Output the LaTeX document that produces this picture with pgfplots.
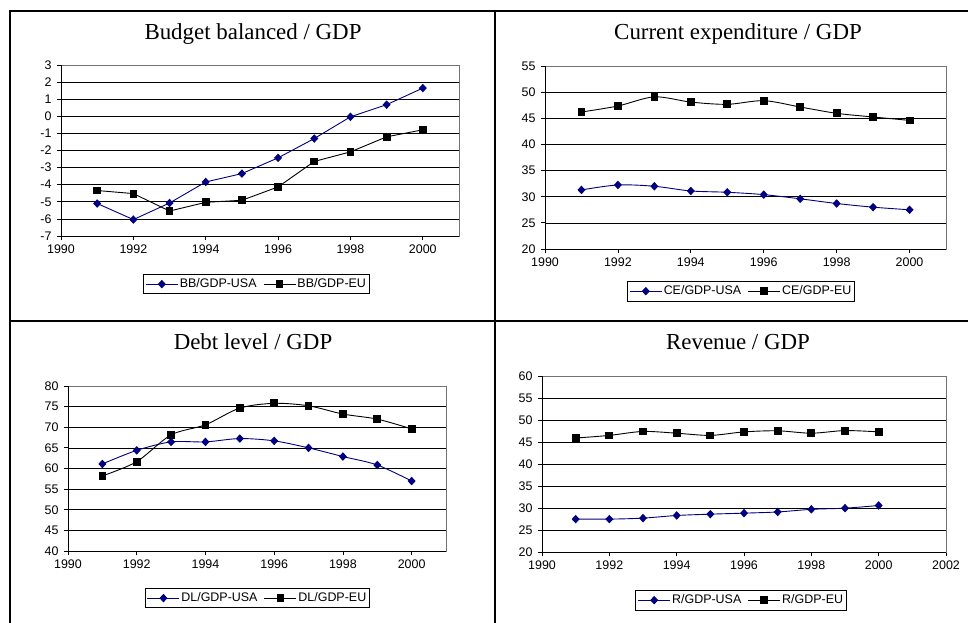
\documentclass[border=0pt]{standalone}
\usepackage{fontspec}
\setmainfont{Liberation Sans}
\newfontfamily\serif{Liberation Serif}
\usepackage{pgfplots}
\pgfplotsset{compat=1.18}
\definecolor{usa}{RGB}{0,0,128}
\pgfplotsset{
  panel/.style={
    scale only axis,
    /pgf/number format/assume math mode=true,
    xticklabel style={/pgf/number format/1000 sep={}},
    ymajorgrids,
    major grid style={black, line width=0.7bp},
    axis line style={black!55, line width=0.8bp},
    tick pos=left, tick align=outside,
    major tick length=4bp,
    tick style={black, line width=0.8bp},
    xtick distance=2,
    xmin=1990,
    ticklabel style={font=\fontsize{12.5}{14}\selectfont},
    yticklabel style={xshift=-2bp},
    xticklabel style={yshift=-1bp},
    legend columns=2,
    legend style={draw=black, line width=0.8bp, font=\fontsize{12.5}{14}\selectfont,
      anchor=north, inner xsep=2bp, inner ysep=3bp,
      /tikz/every even column/.append style={column sep=5bp},
      nodes={inner sep=1.5bp}},
    legend image code/.code={\draw[mark repeat=2,mark phase=2] plot coordinates {(0bp,0bp)(16bp,0bp)(32bp,0bp)};},
  },
  us/.style={color=usa, line width=0.9bp, mark=diamond*, mark size=3.6bp, mark options={xscale=1.25, solid}},
  eu/.style={color=black, line width=0.9bp, mark=square*, mark size=3.4bp, mark options={solid}},
}
\begin{document}
\begin{tikzpicture}
\useasboundingbox (0,0) rectangle (968bp,-623bp);
\draw[line width=2bp] (10bp,-623bp) -- (10bp,-11bp) -- (968bp,-11bp);
\draw[line width=2bp] (10bp,-321bp) -- (968bp,-321bp);
\draw[line width=2bp] (495bp,-11bp) -- (495bp,-623bp);

\node[anchor=base] at (253bp,-39bp) {\serif\fontsize{23}{28}\selectfont Budget balanced / GDP};
\node[anchor=base] at (738bp,-39bp) {\serif\fontsize{23}{28}\selectfont Current expenditure / GDP};
\node[anchor=base] at (253bp,-349bp) {\serif\fontsize{23}{28}\selectfont Debt level / GDP};
\node[anchor=base] at (738bp,-349bp) {\serif\fontsize{23}{28}\selectfont Revenue / GDP};

% Panel 1
\begin{axis}[panel, at={(61bp,-65bp)}, anchor=north west, width=398bp, height=171bp,
  xmax=2001, ymin=-7, ymax=3, ytick distance=1,
  legend style={at={(0.491,-0.222)}}]
\addplot[us] coordinates {(1991,-5.1)(1992,-6.04)(1993,-5.07)(1994,-3.84)(1995,-3.35)(1996,-2.43)(1997,-1.3)(1998,-0.03)(1999,0.68)(2000,1.65)};
\addlegendentry{BB/GDP-USA}
\addplot[eu] coordinates {(1991,-4.34)(1992,-4.52)(1993,-5.54)(1994,-5.03)(1995,-4.91)(1996,-4.13)(1997,-2.64)(1998,-2.08)(1999,-1.2)(2000,-0.79)};
\addlegendentry{BB/GDP-EU}
\draw[black, line width=0.8bp] (rel axis cs:0,1) -- (rel axis cs:0,0) -- (rel axis cs:1,0);
\end{axis}

% Panel 2
\begin{axis}[panel, at={(545bp,-66bp)}, anchor=north west, width=401bp, height=183bp,
  xmax=2001, ymin=20, ymax=55, ytick distance=5,
  legend style={at={(0.489,-0.175)}}]
\addplot[us, smooth] coordinates {(1991,31.3)(1992,32.25)(1993,32.0)(1994,31.1)(1995,30.85)(1996,30.4)(1997,29.6)(1998,28.7)(1999,28.0)(2000,27.5)};
\addlegendentry{CE/GDP-USA}
\addplot[eu, smooth] coordinates {(1991,46.2)(1992,47.35)(1993,49.1)(1994,48.1)(1995,47.67)(1996,48.37)(1997,47.16)(1998,45.95)(1999,45.25)(2000,44.6)};
\addlegendentry{CE/GDP-EU}
\draw[black, line width=0.8bp] (rel axis cs:0,1) -- (rel axis cs:0,0) -- (rel axis cs:1,0);
\end{axis}

% Panel 3
\begin{axis}[panel, at={(68bp,-386bp)}, anchor=north west, width=378bp, height=165bp,
  xmax=2001, ymin=40, ymax=80, ytick distance=5,
  legend style={at={(0.501,-0.224)}}]
\addplot[us, smooth] coordinates {(1991,61.1)(1992,64.4)(1993,66.45)(1994,66.45)(1995,67.26)(1996,66.7)(1997,65.0)(1998,62.9)(1999,60.85)(2000,56.96)};
\addlegendentry{DL/GDP-USA}
\addplot[eu, smooth] coordinates {(1991,58.2)(1992,61.66)(1993,68.15)(1994,70.6)(1995,74.65)(1996,75.8)(1997,75.2)(1998,73.2)(1999,71.97)(2000,69.6)};
\addlegendentry{DL/GDP-EU}
\draw[black, line width=0.8bp] (rel axis cs:0,1) -- (rel axis cs:0,0) -- (rel axis cs:1,0);
\end{axis}

% Panel 4
\begin{axis}[panel, at={(542bp,-376bp)}, anchor=north west, width=404bp, height=176bp,
  xmax=2002, ymin=20, ymax=60, ytick distance=5,
  legend style={at={(0.493,-0.216)}}]
\addplot[us, smooth] coordinates {(1991,27.47)(1992,27.47)(1993,27.7)(1994,28.3)(1995,28.6)(1996,28.83)(1997,29.1)(1998,29.7)(1999,29.96)(2000,30.57)};
\addlegendentry{R/GDP-USA}
\addplot[eu, smooth] coordinates {(1991,45.9)(1992,46.5)(1993,47.4)(1994,47.0)(1995,46.5)(1996,47.3)(1997,47.55)(1998,47.0)(1999,47.6)(2000,47.3)};
\addlegendentry{R/GDP-EU}
\draw[black, line width=0.8bp] (rel axis cs:0,1) -- (rel axis cs:0,0) -- (rel axis cs:1,0);
\end{axis}
\end{tikzpicture}
\end{document}
